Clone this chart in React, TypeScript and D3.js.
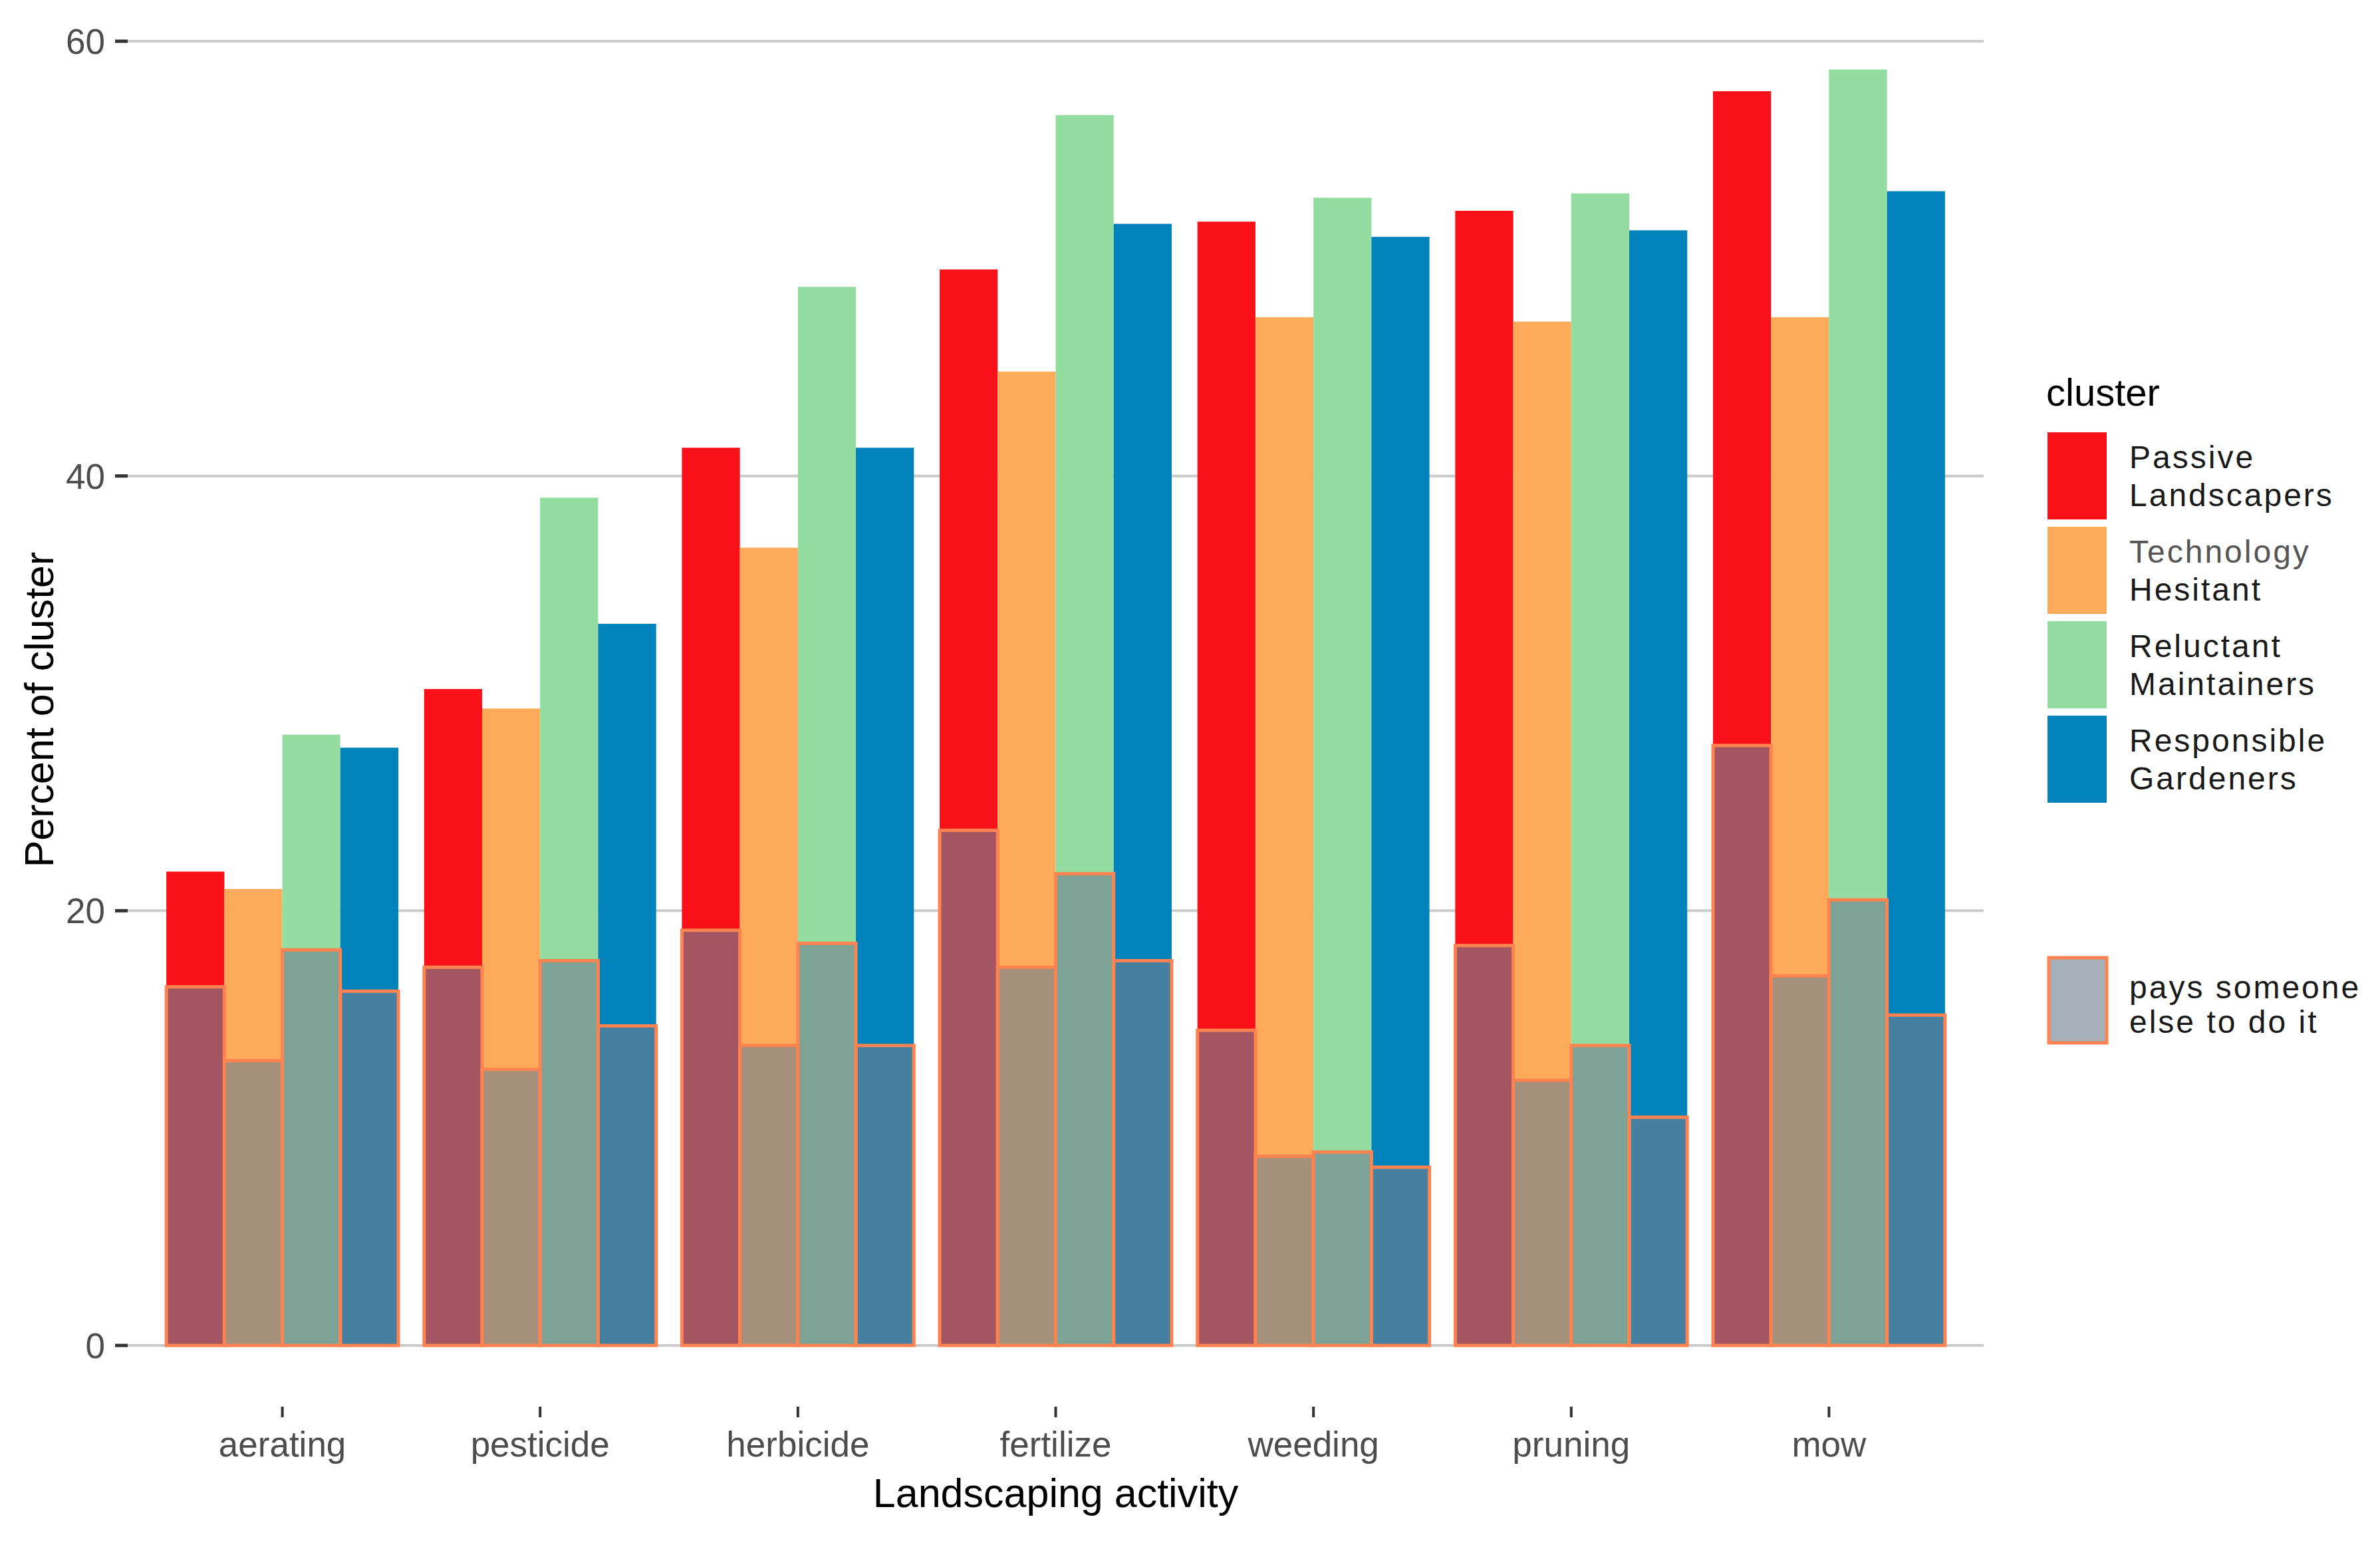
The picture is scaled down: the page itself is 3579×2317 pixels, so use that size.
import { useEffect, useRef } from 'react';
import * as d3 from 'd3';

// Landscaping activities on the x axis
const activities = ['aerating', 'pesticide', 'herbicide', 'fertilize', 'weeding', 'pruning', 'mow'];

const clusters = ['Passive Landscapers', 'Technology Hesitant', 'Reluctant Maintainers', 'Responsible Gardeners'];
const clusterColors = ['#F81119', '#FDAB5A', '#94DDA0', '#0082BA'];

// Percent of cluster doing the activity
const passiveTotal = [21.8, 30.2, 41.3, 49.5, 51.7, 52.2, 57.7];
const hesitantTotal = [21.0, 29.3, 36.7, 44.8, 47.3, 47.1, 47.3];
const reluctantTotal = [28.1, 39.0, 48.7, 56.6, 52.8, 53.0, 58.7];
const responsibleTotal = [27.5, 33.2, 41.3, 51.6, 51.0, 51.3, 53.1];

// Percent of cluster paying someone else to do it
const passivePays = [16.5, 17.4, 19.1, 23.7, 14.5, 18.4, 27.6];
const hesitantPays = [13.1, 12.7, 13.8, 17.4, 8.7, 12.2, 17.0];
const reluctantPays = [18.2, 17.7, 18.5, 21.7, 8.9, 13.8, 20.5];
const responsiblePays = [16.3, 14.7, 13.8, 17.7, 8.2, 10.5, 15.2];

const yTicks = [0, 20, 40, 60];

const App = () => {
  const svgRef = useRef<SVGSVGElement | null>(null);

  useEffect(() => {
    const width = 3579;
    const height = 2317;
    const font = 'Liberation Sans, Arial, Helvetica, sans-serif';

    const svg = d3.select(svgRef.current);
    svg.selectAll('*').remove();
    svg.attr('width', width).attr('height', height);

    const totals = [passiveTotal, hesitantTotal, reluctantTotal, responsibleTotal];
    const pays = [passivePays, hesitantPays, reluctantPays, responsiblePays];

    const rows = clusters.flatMap((c, ci) =>
      activities.map((a, ai) => ({ activity: a, cluster: c, ci, total: totals[ci][ai], pays: pays[ci][ai] }))
    );

    const panel = { left: 192, right: 2983 };

    const x = d3.scaleBand<string>()
      .domain(activities)
      .range([panel.left, panel.right])
      .paddingInner(0.1)
      .paddingOuter(0.15);

    const xInner = d3.scaleBand<string>()
      .domain(clusters)
      .range([0, x.bandwidth()]);

    const y = d3.scaleLinear().domain([0, 60]).range([2023, 62]);

    // gridlines
    svg.append('g')
      .selectAll('line')
      .data(yTicks)
      .enter()
      .append('line')
      .attr('x1', panel.left)
      .attr('x2', panel.right)
      .attr('y1', d => y(d))
      .attr('y2', d => y(d))
      .attr('stroke', '#CBCBCB')
      .attr('stroke-width', 4);

    // y ticks + labels
    const yAxis = svg.append('g');
    yAxis.selectAll('line')
      .data(yTicks)
      .enter()
      .append('line')
      .attr('x1', panel.left - 19)
      .attr('x2', panel.left)
      .attr('y1', d => y(d))
      .attr('y2', d => y(d))
      .attr('stroke', '#333333')
      .attr('stroke-width', 5);
    yAxis.selectAll('text')
      .data(yTicks)
      .enter()
      .append('text')
      .attr('x', 158)
      .attr('y', d => y(d))
      .attr('dy', '0.36em')
      .attr('text-anchor', 'end')
      .style('font-family', font)
      .style('font-size', '53px')
      .style('fill', '#4D4D4D')
      .text(d => d);

    // x ticks + labels
    const xAxis = svg.append('g');
    xAxis.selectAll('line')
      .data(activities)
      .enter()
      .append('line')
      .attr('x1', d => (x(d) as number) + x.bandwidth() / 2)
      .attr('x2', d => (x(d) as number) + x.bandwidth() / 2)
      .attr('y1', 2115)
      .attr('y2', 2131)
      .attr('stroke', '#333333')
      .attr('stroke-width', 4);
    xAxis.selectAll('text')
      .data(activities)
      .enter()
      .append('text')
      .attr('x', d => (x(d) as number) + x.bandwidth() / 2)
      .attr('y', 2190)
      .attr('text-anchor', 'middle')
      .style('font-family', font)
      .style('font-size', '53px')
      .style('fill', '#4D4D4D')
      .text(d => d);

    // cluster bars
    svg.append('g')
      .selectAll('rect')
      .data(rows)
      .enter()
      .append('rect')
      .attr('x', d => (x(d.activity) as number) + (xInner(d.cluster) as number))
      .attr('width', xInner.bandwidth())
      .attr('y', d => y(d.total))
      .attr('height', d => y(0) - y(d.total))
      .attr('fill', d => clusterColors[d.ci]);

    // "pays someone else" overlay
    svg.append('g')
      .selectAll('rect')
      .data(rows)
      .enter()
      .append('rect')
      .attr('x', d => (x(d.activity) as number) + (xInner(d.cluster) as number))
      .attr('width', xInner.bandwidth())
      .attr('y', d => y(d.pays))
      .attr('height', d => y(0) - y(d.pays))
      .attr('fill', 'slategray')
      .attr('fill-opacity', 0.62)
      .attr('stroke', '#FF8350')
      .attr('stroke-width', 5);

    // axis titles
    svg.append('text')
      .attr('x', (panel.left + panel.right) / 2)
      .attr('y', 2266)
      .attr('text-anchor', 'middle')
      .style('font-family', font)
      .style('font-size', '61px')
      .style('fill', '#000')
      .text('Landscaping activity');

    svg.append('text')
      .attr('transform', `translate(80, ${(y(0) + 7 + 96) / 2 + 4}) rotate(-90)`)
      .attr('text-anchor', 'middle')
      .style('font-family', font)
      .style('font-size', '61px')
      .style('fill', '#000')
      .text('Percent of cluster');

    // legend
    const legend = svg.append('g').attr('transform', 'translate(3077, 0)');
    legend.append('text')
      .attr('x', 0)
      .attr('y', 610)
      .style('font-family', font)
      .style('font-size', '58px')
      .style('fill', '#000')
      .text('cluster');

    clusters.forEach((label, i) => {
      const top = 650 + i * 142;
      legend.append('rect')
        .attr('x', 2)
        .attr('y', top)
        .attr('width', 89)
        .attr('height', 131)
        .attr('fill', clusterColors[i]);
      const words = label.split(' ');
      const t = legend.append('text')
        .style('font-family', font)
        .style('font-size', '48px')
        .style('letter-spacing', '3px')
        .style('fill', '#1A1A1A');
      words.forEach((w, j) => {
        t.append('tspan')
          .attr('x', 125)
          .attr('y', top + 65 + (j - 0.5) * 57)
          .attr('dy', '0.36em')
          .style('fill', i === 1 && j === 0 ? '#555555' : '#1A1A1A')
          .text(w);
      });
    });

    legend.append('rect')
      .attr('x', 4)
      .attr('y', 1440)
      .attr('width', 87)
      .attr('height', 128)
      .attr('fill', 'slategray')
      .attr('fill-opacity', 0.62)
      .attr('stroke', '#FF8350')
      .attr('stroke-width', 5);
    const payText = legend.append('text')
      .style('font-family', font)
      .style('font-size', '48px')
      .style('letter-spacing', '3px')
      .style('fill', '#1A1A1A');
    ['pays someone', 'else to do it'].forEach((line, j) => {
      payText.append('tspan')
        .attr('x', 125)
        .attr('y', 1484 + j * 52)
        .attr('dy', '0.36em')
        .text(line);
    });
  }, []);

  return <svg ref={svgRef} style={{ position: 'absolute', left: 0, top: 0, background: '#fff' }}></svg>;
};

export default App;
